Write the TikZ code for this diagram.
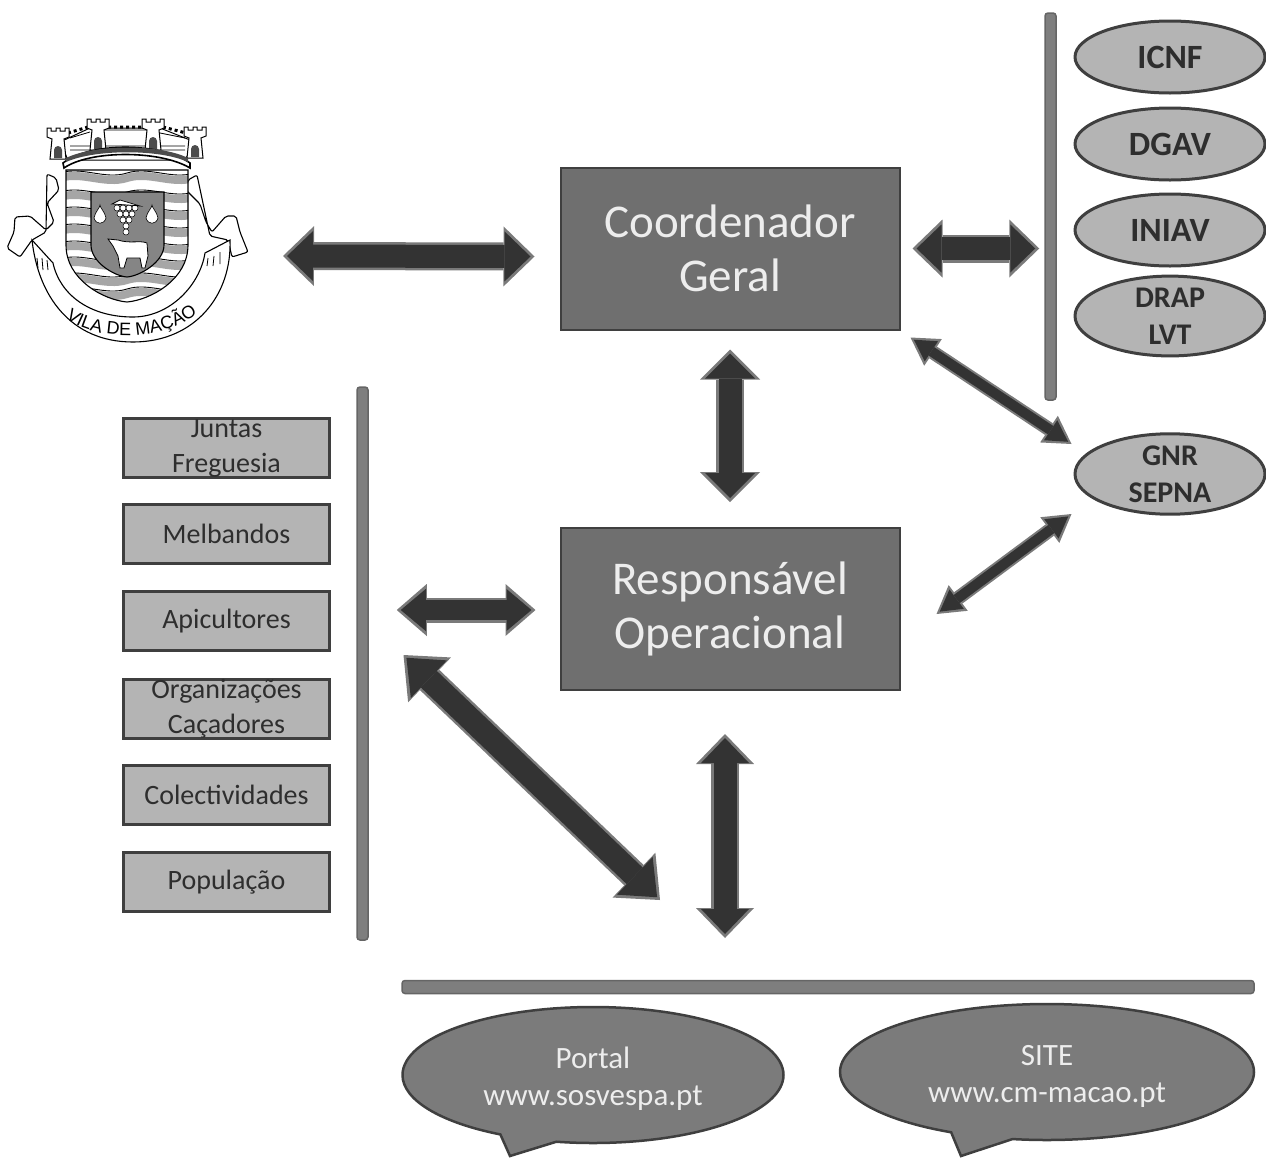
\documentclass[tikz,border=0pt]{standalone}
\usepackage{fontspec}
\setmainfont{Carlito}
\newfontfamily\logofont{Liberation Sans}
\usetikzlibrary{arrows.meta,calc,shapes.geometric,shapes.callouts,decorations.text}
\definecolor{boxdark}{HTML}{6F6F6F}
\definecolor{edgedark}{HTML}{3F3F3F}
\definecolor{lightfill}{HTML}{B4B4B4}
\definecolor{arrowdark}{HTML}{333333}
\definecolor{arrowedge}{HTML}{7A7A7A}
\definecolor{barfill}{HTML}{7E7E7E}
\definecolor{txtdark}{HTML}{2E2E2E}
\tikzset{
  x=1pt,y=-1pt,
  mainbox/.style={draw=edgedark,line width=2pt,fill=boxdark,minimum width=339pt,minimum height=162pt,inner sep=0pt,
    text=white!93!black,align=center,font=\fontsize{47}{54}\selectfont},
  org/.style={draw=edgedark,line width=3pt,fill=lightfill,ellipse,minimum width=190pt,minimum height=72pt,inner sep=0pt,
    text=txtdark,align=center,font=\bfseries\fontsize{34}{37}\selectfont},
  orgtwo/.style={org,font=\bfseries\fontsize{30}{37}\selectfont},
  local/.style={draw=edgedark,line width=3pt,fill=lightfill,minimum width=206pt,minimum height=59pt,inner sep=0pt,
    text=txtdark,align=center,font=\fontsize{28}{35}\selectfont},
  bar/.style={draw=edgedark!80,line width=1.5pt,fill=barfill,rounded corners=3pt,inner sep=0pt},
  bubble/.style={ellipse callout,draw=edgedark,line width=2.5pt,fill=boxdark!92!white,inner sep=0pt,
    text=white!93!black,align=center,callout pointer arc=18,font=\fontsize{31}{37}\selectfont},
  blockarrow/.style n args={6}{
    preaction={draw=arrowedge,line width=#1pt,shorten <=0pt,shorten >=0pt,
      {Triangle[length=#3pt 0 0,width=#2pt 0 0,fill=arrowedge,line width=0pt]}-{Triangle[length=#3pt 0 0,width=#2pt 0 0,fill=arrowedge,line width=0pt]}},
    draw=arrowdark,line width=#4pt,shorten <=4pt,shorten >=4pt,
    {Triangle[length=#6pt 0 0,width=#5pt 0 0,fill=arrowdark,line width=0pt]}-{Triangle[length=#6pt 0 0,width=#5pt 0 0,fill=arrowdark,line width=0pt]}},
  coat/.style={draw=black,line width=1.1pt},
}
\newcommand\crowntower[2]{%
  \fill[white,draw=black,line width=1pt] (#1-8,#2+28) -- (#1-6,#2+8) -- (#1-11,#2+6) -- (#1-11,#2-3) -- (#1-7,#2-3) -- (#1-7,#2) -- (#1-2,#2) -- (#1-2,#2-3) -- (#1+2,#2-3) -- (#1+2,#2) -- (#1+7,#2) -- (#1+7,#2-3) -- (#1+11,#2-3) -- (#1+11,#2+6) -- (#1+6,#2+8) -- (#1+8,#2+28) -- cycle;
  \fill[black!70] (#1-4,#2+27) -- (#1-4,#2+19) arc (180:360:4) -- (#1+4,#2+27) -- cycle;
}
\newcommand\coatwave[1]{(60,#1) .. controls (82,#1-7) and (105,#1+7) .. (127,#1) .. controls (149,#1-7) and (172,#1+7) .. (194,#1)}
\begin{document}
\begin{tikzpicture}
\useasboundingbox (0,0) rectangle (1266,1157);
% coat of arms: ribbon
\fill[white,coat,rounded corners=2pt] (47,174) -- (56,178) -- (59,190) -- (47,203) -- (54,222) -- (46,230) -- (30,216) -- (15,217) -- (14,232) -- (7,248) -- (20,257) -- (32,240) -- (46,232) -- cycle;
\fill[white,coat,rounded corners=2pt] (197,175) -- (188,180) -- (186,190) -- (200,204) -- (206,222) -- (212,232) -- (226,216) -- (236,216) -- (240,232) -- (248,252) -- (232,257) -- (228,240) -- (210,236) -- cycle;
\fill[white,coat] (32,240) .. controls (38,295) and (70,342) .. (133,342) .. controls (195,342) and (232,295) .. (230,240) -- (205,253) .. controls (200,285) and (170,317) .. (133,317) .. controls (90,317) and (60,295) .. (53,263) -- cycle;
\draw[line width=.8pt] (37,258) -- (38,268) (42,258) -- (43,270) (47,260) -- (48,270) (208,258) -- (207,266) (214,256) -- (213,266) (220,252) -- (220,264);
\path[decorate,decoration={text along path,text align=center,text={|\logofont\fontsize{18}{18}\selectfont|VILA DE MAÇÃO}}] (63,316) .. controls (90,340) and (160,345) .. (200,312);
% coat of arms: shield
\begin{scope}
\clip (66,170) -- (188,170) -- (188,245) .. controls (188,280) and (150,300) .. (127,302) .. controls (104,300) and (66,280) .. (66,245) -- cycle;
\fill[white] (60,165) rectangle (195,305);
\foreach \wy in {178,197,214,231,248,264,280,294}{
  \draw[black!35,line width=8pt] \coatwave{\wy};
  \draw[black,line width=.9pt] \coatwave{\wy-5};
}
\end{scope}
\draw[coat] (66,170) -- (188,170) -- (188,245) .. controls (188,280) and (150,300) .. (127,302) .. controls (104,300) and (66,280) .. (66,245) -- cycle;
\fill[black!48,coat] (91,192) -- (164,192) -- (164,245) .. controls (164,262) and (140,276) .. (127,277) .. controls (114,276) and (91,262) .. (91,245) -- cycle;
\foreach \gx/\gy in {117/208,123/208,129/208,135/208,120/214,126/214,132/214,123/220,129/220,126/226,126/232}{\fill[white,draw=black,line width=.5pt] (\gx,\gy) circle (3);}
\fill[white,draw=black,line width=.7pt] (112,204) -- (120,200) -- (140,206) -- (128,205) -- cycle;
\foreach \gx in {100,152}{\fill[white,draw=black,line width=.6pt] (\gx-6,218) .. controls (\gx-4,210) and (\gx,208) .. (\gx,205) .. controls (\gx,208) and (\gx+4,210) .. (\gx+6,218) .. controls (\gx+4,225) and (\gx-4,225) .. (\gx-6,218) -- cycle;}
\fill[white,draw=black,line width=.8pt] (108,239) -- (118,240) .. controls (130,244) and (140,240) .. (147,243) -- (148,256) -- (145,268) -- (142,268) -- (140,258) -- (127,258) -- (124,268) -- (120,268) -- (118,256) -- (113,246) -- cycle;
% coat of arms: crown
\fill[white,draw=black,line width=1pt] (60,142) -- (90,128) -- (160,128) -- (195,142) -- (185,160) -- (68,160) -- cycle;
\draw[black,line width=.8pt] (70,138) -- (90,132) (100,130) -- (150,130) (160,133) -- (185,138) (70,146) -- (185,146) (70,150) -- (185,150);
\draw[black,line width=3pt,dash pattern=on 3pt off 3pt] (68,133) -- (88,127) (108,127) -- (143,127) (163,127) -- (186,133);
\crowntower{58}{131}
\crowntower{98}{122}
\crowntower{153}{122}
\crowntower{195}{130}
\fill[white,draw=black,line width=1.6pt] (63,163) .. controls (90,142) and (160,142) .. (190,163) -- (190,168) .. controls (160,150) and (90,150) .. (64,168) -- cycle;
\fill[black!70] (66,158) .. controls (95,144) and (160,144) .. (188,158) -- (188,162) .. controls (160,149) and (95,149) .. (66,162) -- cycle;
% main boxes
\node[mainbox] (cg) at (730,248.5) {Coordenador\\Geral};
\node[mainbox] (ro) at (730,609) {Responsável\\Operacional};
% bars
\node[bar,minimum width=11pt,minimum height=387pt] (rb) at (1050.5,206.5) {};
\node[bar,minimum width=11pt,minimum height=553pt] (lb) at (362.5,663.5) {};
\node[bar,minimum width=852pt,minimum height=13pt] (bb) at (828,987) {};
% partner ellipses
\node[org] (icnf) at (1170,57) {ICNF};
\node[org] (dgav) at (1170,144) {DGAV};
\node[org] (iniav) at (1170,230) {INIAV};
\node[orgtwo] (drap) at (1170,316) {DRAP\\LVT};
\node[orgtwo] (gnr) at (1170,474) {GNR\\SEPNA};
% local actors
\node[local] (jf) at (226.5,448) {Juntas\\Freguesia};
\node[local] (mel) at (226.5,534) {Melbandos};
\node[local] (api) at (226.5,621) {Apicultores};
\node[local] (oc) at (226.5,709) {Organizações\\Caçadores};
\node[local] (col) at (226.5,795) {Colectividades};
\node[local] (pop) at (226.5,882) {População};
% bubbles
\node[bubble,minimum width=381pt,minimum height=136pt,callout absolute pointer={(510,1156)}] (portal) at (593,1075) {\rule{0pt}{28pt}Portal\\www.sosvespa.pt};
\node[bubble,minimum width=414pt,minimum height=136pt,callout absolute pointer={(961,1156)}] (site) at (1047,1072) {\rule{0pt}{28pt}SITE\\www.cm-macao.pt};
% connectors
\coordinate (logoend) at (283,256);
\coordinate (bigdiag) at (660,900);
\coordinate (webend) at (725,938);
\draw[blockarrow={28}{60}{31}{23}{50}{26}] (logoend) -- ($(cg.west)+(-25,8)$);
\draw[blockarrow={28}{58}{30}{23}{48}{25}] ($(cg.east)+(12,0)$) -- ($(rb.west |- cg.east)+(-5,0)$);
\draw[blockarrow={28}{60}{30}{23}{50}{25}] ($(cg.south)+(0,19)$) -- ($(ro.north)+(0,-25)$);
\draw[blockarrow={25}{52}{30}{20}{42}{25}] ($(lb.east |- ro.west)+(28,1)$) -- ($(ro.west)+(-24,1)$);
\draw[blockarrow={28}{62}{36}{23}{52}{31}] ($(ro.west)+(-156,46)$) -- (bigdiag);
\draw[blockarrow={28}{58}{30}{23}{48}{25}] ($(ro.south)+(-5,43)$) -- (webend);
\draw[blockarrow={14}{32}{27}{10}{24}{21}] ($(cg.south east)+(10,7)$) -- ($(gnr.west)+(-2,-30)$);
\draw[blockarrow={14}{32}{27}{10}{24}{21}] ($(ro.east)+(36,5)$) -- ($(gnr.west)+(-2,40)$);
\end{tikzpicture}
\end{document}
